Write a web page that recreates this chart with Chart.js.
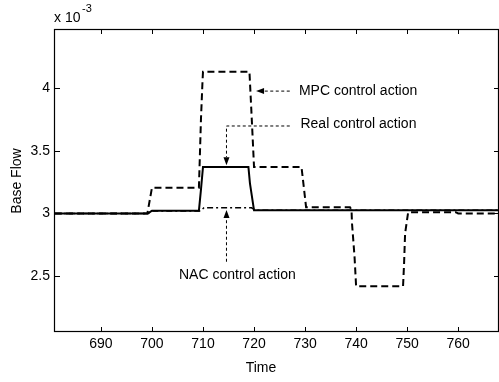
<!DOCTYPE html>
<html>
<head>
<meta charset="utf-8">
<script src="https://cdn.jsdelivr.net/npm/chart.js@4"></script>
<style>
  html, body { margin: 0; padding: 0; background: #fff; }
  #wrap { width: 499px; height: 382px; }
</style>
</head>
<body>
<div id="wrap"><canvas id="flowChart"></canvas></div>
<script>
// axis ticks (flow values are in units of 1e-3)
const xTickValues = [690, 700, 710, 720, 730, 740, 750, 760];
const yTickValues = [2.5, 3, 3.5, 4];

// MPC control action
const mpcTime = [681, 699.1, 700, 709.2, 709.6, 709.9, 710, 719.1, 719.5, 720, 729.3, 730.2, 738.8, 739.1, 739.2, 739.7, 740, 749.2, 749.4, 749.6, 750.2, 759.5, 760, 768];
const mpcFlow = [3.0, 3.0, 3.205, 3.205, 3.75, 4.05, 4.13, 4.13, 3.8, 3.37, 3.37, 3.05, 3.05, 3.03, 2.92, 2.65, 2.42, 2.42, 2.6, 2.84, 3.01, 3.01, 3.0, 3.0];

// Real control action
const realTime = [681, 699.2, 700, 709.2, 709.6, 710, 718.9, 719.2, 720, 768];
const realFlow = [3.0, 3.0, 3.022, 3.022, 3.19, 3.37, 3.37, 3.24, 3.025, 3.025];

// NAC control action
const nacTime = [681, 699.2, 700, 709.5, 710.2, 719.5, 720.3, 768];
const nacFlow = [3.0, 3.0, 3.02, 3.02, 3.045, 3.045, 3.025, 3.025];

const FONT = 'Liberation Sans, Arial, sans-serif';

function points(xs, ys) {
    return xs.map(function (x, i) { return { x: x, y: ys[i] }; });
}

function arrowHead(ctx, x, y, dir) {
    // dir: 'left', 'down', 'up'
    ctx.beginPath();
    ctx.moveTo(x, y);
    if (dir === 'left') { ctx.lineTo(x + 8, y - 3); ctx.lineTo(x + 8, y + 3); }
    if (dir === 'down') { ctx.lineTo(x - 3, y - 8); ctx.lineTo(x + 3, y - 8); }
    if (dir === 'up')   { ctx.lineTo(x - 3, y + 8); ctx.lineTo(x + 3, y + 8); }
    ctx.closePath();
    ctx.fill();
}

// box, inward ticks, axis titles, exponent and arrow notes
const matlabFrame = {
    id: 'matlabFrame',
    afterDraw: function (chart) {
        const ctx = chart.ctx;
        const ca = chart.chartArea;
        const xs = chart.scales.x;
        const ys = chart.scales.y;
        ctx.save();
        ctx.strokeStyle = '#000';
        ctx.fillStyle = '#000';
        ctx.lineWidth = 1.2;
        ctx.setLineDash([]);
        ctx.strokeRect(ca.left - 0.5, ca.top + 0.5, ca.right - ca.left, ca.bottom - ca.top - 1);

        ctx.lineWidth = 1;
        ctx.beginPath();
        xTickValues.forEach(function (v) {
            const px = Math.round(xs.getPixelForValue(v)) + 0.5;
            ctx.moveTo(px, ca.bottom); ctx.lineTo(px, ca.bottom - 5);
            ctx.moveTo(px, ca.top); ctx.lineTo(px, ca.top + 5);
        });
        yTickValues.forEach(function (v) {
            const py = Math.round(ys.getPixelForValue(v)) + 0.5;
            ctx.moveTo(ca.left, py); ctx.lineTo(ca.left + 5, py);
            ctx.moveTo(ca.right, py); ctx.lineTo(ca.right - 5, py);
        });
        ctx.stroke();

        // exponent
        ctx.font = '14px ' + FONT;
        ctx.textAlign = 'left';
        ctx.textBaseline = 'alphabetic';
        ctx.fillText('x 10', ca.left - 1, 22);
        ctx.font = '11px ' + FONT;
        ctx.fillText('-3', ca.left + 27, 12);

        // axis titles
        ctx.font = '14px ' + FONT;
        ctx.textAlign = 'center';
        ctx.textBaseline = 'middle';
        ctx.fillText('Time', 261, 368);
        ctx.save();
        ctx.translate(17, 181);
        ctx.rotate(-Math.PI / 2);
        ctx.fillText('Base Flow', 0, 0);
        ctx.restore();

        // annotations
        const X = function (v) { return xs.getPixelForValue(v); };
        const Y = function (v) { return ys.getPixelForValue(v); };
        ctx.lineWidth = 1;
        ctx.setLineDash([3, 2.5]);

        // MPC
        ctx.beginPath();
        ctx.moveTo(X(727.0), Y(3.975));
        ctx.lineTo(X(720.4) + 8, Y(3.975));
        ctx.stroke();
        // Real
        ctx.beginPath();
        ctx.moveTo(X(727.0), Y(3.697));
        ctx.lineTo(X(714.6), Y(3.697));
        ctx.lineTo(X(714.6), Y(3.385) - 8);
        ctx.stroke();
        // NAC
        ctx.beginPath();
        ctx.moveTo(X(714.6), Y(2.615));
        ctx.lineTo(X(714.6), Y(3.027) + 8);
        ctx.stroke();

        ctx.setLineDash([]);
        arrowHead(ctx, X(720.4), Y(3.975), 'left');
        arrowHead(ctx, X(714.6), Y(3.385), 'down');
        arrowHead(ctx, X(714.6), Y(3.027), 'up');

        ctx.font = '14px ' + FONT;
        ctx.textAlign = 'left';
        ctx.textBaseline = 'middle';
        ctx.fillText('MPC control action', X(728.8), Y(3.975));
        ctx.fillText('Real control action', X(729.1), Y(3.713));
        ctx.fillText('NAC control action', X(705.3), Y(2.505));
        ctx.restore();
    }
};

new Chart(document.getElementById('flowChart'), {
    type: 'line',
    data: {
        datasets: [
            {
                label: 'Real control action',
                data: points(realTime, realFlow),
                borderColor: '#000',
                borderWidth: 2,
                pointRadius: 0,
                tension: 0
            },
            {
                label: 'NAC control action',
                data: points(nacTime, nacFlow),
                borderColor: '#000',
                borderWidth: 1.5,
                borderDash: [6, 3, 2, 3],
                pointRadius: 0,
                tension: 0
            },
            {
                label: 'MPC control action',
                data: points(mpcTime, mpcFlow),
                borderColor: '#000',
                borderWidth: 2,
                borderDash: [7, 4],
                pointRadius: 0,
                tension: 0
            }
        ]
    },
    options: {
        responsive: true,
        maintainAspectRatio: false,
        animation: false,
        layout: { padding: { top: 29, left: 0, right: 0, bottom: 0 } },
        plugins: { legend: { display: false }, tooltip: { enabled: false } },
        scales: {
            x: {
                type: 'linear',
                min: 681,
                max: 768,
                afterBuildTicks: function (s) { s.ticks = xTickValues.map(function (v) { return { value: v }; }); },
                afterFit: function (s) { s.height = 50; },
                grid: { display: false, drawTicks: false },
                border: { display: false },
                ticks: {
                    color: '#000',
                    font: { family: FONT, size: 14 },
                    padding: 4,
                    maxRotation: 0,
                    autoSkip: false,
                    callback: function (v) { return String(v); }
                }
            },
            y: {
                type: 'linear',
                min: 2.055,
                max: 4.47,
                afterBuildTicks: function (s) { s.ticks = yTickValues.map(function (v) { return { value: v }; }); },
                afterFit: function (s) { s.width = 55; },
                grid: { display: false, drawTicks: false },
                border: { display: false },
                ticks: {
                    color: '#000',
                    font: { family: FONT, size: 14 },
                    padding: 5,
                    autoSkip: false,
                    callback: function (v) { return String(v); }
                }
            }
        }
    },
    plugins: [matlabFrame]
});
</script>
</body>
</html>
